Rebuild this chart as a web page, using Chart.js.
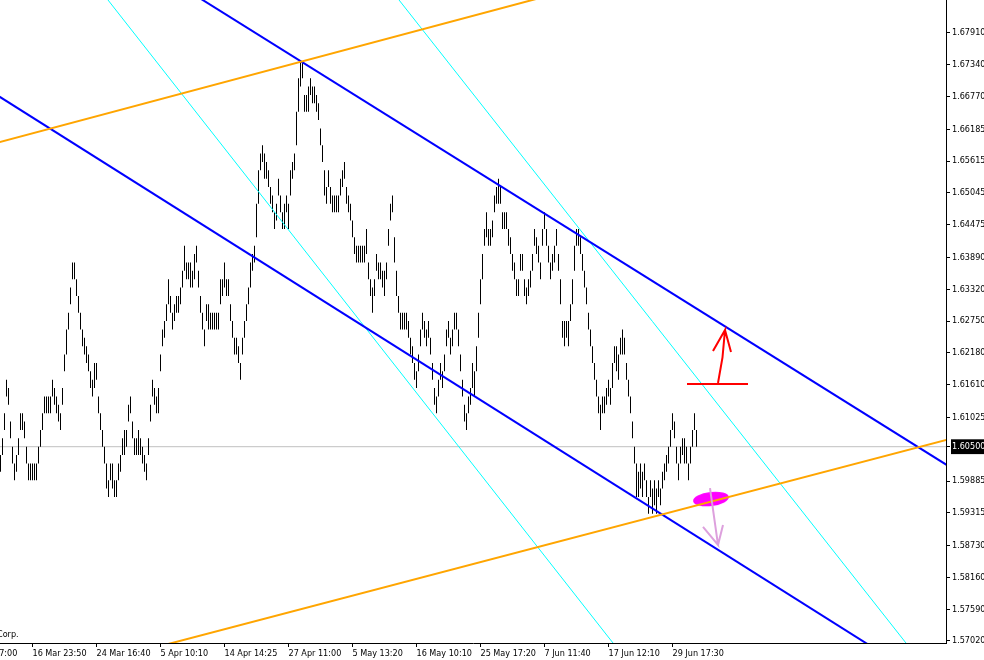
<!DOCTYPE html>
<html>
<head>
<meta charset="utf-8">
<title>Price chart</title>
<script src="https://cdn.jsdelivr.net/npm/chart.js@4.4.1/dist/chart.umd.min.js"></script>
<style>
  html, body { margin: 0; padding: 0; background: #fff; }
  canvas { display: block; }
</style>
</head>
<body>
<canvas id="priceChart" width="984" height="660"></canvas>
<script>
// one vertical bar per index: high / low
const barHigh = [
  1.6035,1.6065,1.6110,1.6170,1.6155,1.6095,1.6050,1.6020,1.6035,1.6065,
  1.6110,1.6110,1.6095,1.6050,1.6020,1.6020,1.6020,1.6020,1.6020,1.6050,
  1.6080,1.6110,1.6140,1.6140,1.6140,1.6140,1.6170,1.6155,1.6140,1.6125,
  1.6110,1.6155,1.6215,1.6260,1.6290,1.6335,1.6380,1.6380,1.6350,1.6320,
  1.6290,1.6260,1.6245,1.6230,1.6215,1.6185,1.6170,1.6200,1.6200,1.6140,
  1.6110,1.6080,1.6050,1.6020,1.5990,1.6020,1.6020,1.5990,1.5990,1.6020,
  1.6035,1.6065,1.6080,1.6080,1.6125,1.6140,1.6095,1.6065,1.6065,1.6080,
  1.6065,1.6050,1.6035,1.6020,1.6065,1.6125,1.6170,1.6155,1.6140,1.6155,
  1.6215,1.6260,1.6275,1.6305,1.6350,1.6320,1.6290,1.6305,1.6320,1.6320,
  1.6335,1.6365,1.6410,1.6380,1.6380,1.6380,1.6365,1.6395,1.6410,1.6365,
  1.6320,1.6290,1.6260,1.6305,1.6305,1.6290,1.6290,1.6290,1.6290,1.6290,
  1.6350,1.6350,1.6380,1.6350,1.6350,1.6305,1.6275,1.6245,1.6245,1.6230,
  1.6200,1.6245,1.6275,1.6305,1.6335,1.6380,1.6395,1.6410,1.6485,1.6545,
  1.6575,1.6590,1.6575,1.6560,1.6545,1.6515,1.6500,1.6470,1.6485,1.6530,
  1.6500,1.6470,1.6485,1.6500,1.6485,1.6545,1.6560,1.6575,1.6650,1.6710,
  1.6740,1.6740,1.6680,1.6680,1.6695,1.6710,1.6695,1.6695,1.6680,1.6665,
  1.6620,1.6590,1.6545,1.6515,1.6545,1.6515,1.6500,1.6500,1.6500,1.6500,
  1.6530,1.6545,1.6560,1.6515,1.6500,1.6485,1.6455,1.6425,1.6410,1.6410,
  1.6410,1.6410,1.6410,1.6440,1.6380,1.6350,1.6335,1.6350,1.6395,1.6380,
  1.6380,1.6365,1.6365,1.6380,1.6440,1.6485,1.6500,1.6425,1.6365,1.6320,
  1.6290,1.6290,1.6290,1.6290,1.6275,1.6245,1.6230,1.6200,1.6185,1.6215,
  1.6260,1.6290,1.6275,1.6260,1.6275,1.6245,1.6200,1.6155,1.6140,1.6170,
  1.6200,1.6185,1.6215,1.6260,1.6275,1.6245,1.6260,1.6290,1.6290,1.6260,
  1.6215,1.6170,1.6125,1.6110,1.6140,1.6155,1.6200,1.6185,1.6230,1.6290,
  1.6350,1.6395,1.6440,1.6470,1.6440,1.6440,1.6455,1.6500,1.6515,1.6530,
  1.6515,1.6470,1.6470,1.6470,1.6440,1.6425,1.6395,1.6380,1.6350,1.6350,
  1.6395,1.6395,1.6350,1.6335,1.6350,1.6365,1.6395,1.6440,1.6425,1.6410,
  1.6380,1.6440,1.6470,1.6440,1.6410,1.6380,1.6395,1.6410,1.6440,1.6395,
  1.6350,1.6275,1.6275,1.6275,1.6275,1.6305,1.6350,1.6410,1.6440,1.6440,
  1.6425,1.6395,1.6365,1.6335,1.6290,1.6260,1.6230,1.6200,1.6170,1.6140,
  1.6125,1.6140,1.6140,1.6155,1.6170,1.6155,1.6200,1.6230,1.6230,1.6215,
  1.6245,1.6260,1.6245,1.6200,1.6170,1.6140,1.6095,1.6050,1.6020,1.6005,
  1.6020,1.6005,1.6020,1.5990,1.5960,1.5990,1.5975,1.5990,1.5975,1.5990,
  1.5975,1.6005,1.6020,1.6035,1.6050,1.6080,1.6110,1.6095,1.6050,1.6020,
  1.6050,1.6065,1.6065,1.6050,1.6020,1.6050,1.6080,1.6110,1.6080
];
const barLow = [
  1.6005,1.6035,1.6080,1.6140,1.6125,1.6065,1.6020,1.5990,1.6005,1.6035,
  1.6080,1.6080,1.6065,1.6020,1.5990,1.5990,1.5990,1.5990,1.5990,1.6020,
  1.6050,1.6080,1.6110,1.6110,1.6110,1.6110,1.6140,1.6125,1.6110,1.6095,
  1.6080,1.6125,1.6185,1.6215,1.6260,1.6305,1.6350,1.6350,1.6320,1.6290,
  1.6260,1.6230,1.6215,1.6200,1.6185,1.6155,1.6140,1.6155,1.6170,1.6110,
  1.6080,1.6050,1.6020,1.5975,1.5960,1.5990,1.5975,1.5960,1.5960,1.5990,
  1.6005,1.6035,1.6035,1.6050,1.6095,1.6110,1.6065,1.6035,1.6035,1.6035,
  1.6035,1.6020,1.6005,1.5990,1.6035,1.6095,1.6140,1.6125,1.6110,1.6110,
  1.6185,1.6230,1.6245,1.6275,1.6305,1.6290,1.6260,1.6275,1.6290,1.6290,
  1.6305,1.6335,1.6365,1.6350,1.6350,1.6335,1.6335,1.6350,1.6380,1.6335,
  1.6290,1.6260,1.6230,1.6275,1.6260,1.6260,1.6260,1.6260,1.6260,1.6260,
  1.6305,1.6320,1.6335,1.6320,1.6320,1.6275,1.6245,1.6215,1.6215,1.6200,
  1.6170,1.6215,1.6245,1.6275,1.6305,1.6335,1.6365,1.6380,1.6425,1.6485,
  1.6545,1.6560,1.6530,1.6530,1.6515,1.6485,1.6470,1.6440,1.6455,1.6500,
  1.6470,1.6440,1.6440,1.6470,1.6440,1.6500,1.6530,1.6545,1.6590,1.6650,
  1.6695,1.6710,1.6650,1.6650,1.6650,1.6680,1.6665,1.6665,1.6650,1.6635,
  1.6590,1.6560,1.6500,1.6485,1.6515,1.6485,1.6470,1.6470,1.6470,1.6470,
  1.6500,1.6515,1.6530,1.6485,1.6470,1.6455,1.6425,1.6395,1.6380,1.6380,
  1.6380,1.6380,1.6380,1.6395,1.6350,1.6320,1.6290,1.6320,1.6365,1.6350,
  1.6350,1.6335,1.6320,1.6350,1.6410,1.6455,1.6470,1.6380,1.6320,1.6290,
  1.6260,1.6260,1.6260,1.6260,1.6245,1.6215,1.6200,1.6170,1.6155,1.6185,
  1.6230,1.6260,1.6245,1.6230,1.6245,1.6215,1.6170,1.6125,1.6110,1.6140,
  1.6170,1.6155,1.6185,1.6230,1.6245,1.6215,1.6230,1.6260,1.6260,1.6230,
  1.6185,1.6140,1.6095,1.6080,1.6110,1.6125,1.6155,1.6140,1.6185,1.6245,
  1.6305,1.6350,1.6410,1.6425,1.6410,1.6410,1.6425,1.6470,1.6485,1.6485,
  1.6485,1.6440,1.6440,1.6440,1.6410,1.6395,1.6365,1.6350,1.6320,1.6320,
  1.6365,1.6365,1.6320,1.6305,1.6320,1.6335,1.6365,1.6410,1.6395,1.6380,
  1.6350,1.6410,1.6440,1.6410,1.6380,1.6350,1.6365,1.6380,1.6410,1.6365,
  1.6305,1.6245,1.6230,1.6245,1.6230,1.6275,1.6305,1.6365,1.6410,1.6410,
  1.6395,1.6365,1.6335,1.6305,1.6260,1.6230,1.6200,1.6170,1.6140,1.6110,
  1.6080,1.6110,1.6110,1.6125,1.6140,1.6125,1.6155,1.6200,1.6185,1.6170,
  1.6215,1.6215,1.6215,1.6170,1.6140,1.6110,1.6065,1.6020,1.5960,1.5960,
  1.5975,1.5960,1.5990,1.5960,1.5930,1.5960,1.5930,1.5945,1.5930,1.5960,
  1.5945,1.5975,1.5990,1.6005,1.6020,1.6050,1.6080,1.6065,1.6020,1.5990,
  1.6020,1.6035,1.6020,1.6020,1.5990,1.6020,1.6050,1.6080,1.6050
];

// time axis: bar index of each label and its text
const timeTickIdx = [-16, 16, 48, 80, 112, 144, 176, 208, 240, 272, 304, 336];
const timeLabels = ["8 Mar 17:00", "16 Mar 23:50", "24 Mar 16:40", "5 Apr 10:10", "14 Apr 14:25",
  "27 Apr 11:00", "5 May 13:20", "16 May 10:10", "25 May 17:20", "7 Jun 11:40", "17 Jun 12:10", "29 Jun 17:30"];

// price axis labels
const priceTicks = [1.67910, 1.67340, 1.66770, 1.66185, 1.65615, 1.65045, 1.64475, 1.63890, 1.63320, 1.62750,
  1.62180, 1.61610, 1.61025, 1.60500, 1.59885, 1.59315, 1.58730, 1.58160, 1.57590, 1.57020];
const bidPrice = 1.60500;

// drawn objects, as [bar index, price]
const bidLine = [[-5, 1.6050], [480, 1.6050]];
const orangeUpper = [[-10, 1.65864], [300, 1.68827]];
const orangeLower = [[70, 1.56836], [490, 1.60783]];
const blueUpper = [[90, 1.68750], [490, 1.59795]];
const blueLower = [[-10, 1.66984], [440, 1.56818]];
const cyanLeft = [[45, 1.68900], [315, 1.56585]];
const cyanRight = [[190, 1.68922], [465, 1.56427]];
const redLevel = [[343.25, 1.61623], [373.75, 1.61623]];
const redArrow = [[358.75, 1.61641], [361, 1.62100], [362.25, 1.62590], [356.25, 1.62214], [362.25, null], [362.25, 1.62590], [365.25, 1.62196]];
const plumArrow = [[354.75, 1.59760], [358.75, 1.58740], [351.25, 1.59062], [358.75, null], [358.75, 1.58740], [361.25, 1.59098]];
const blobCenter = [[355.25, 1.59563]];

const FONT = { family: "'DejaVu Sans Condensed', 'DejaVu Sans', sans-serif", size: 9 };

function pts(arr) {
  return arr.map(p => ({ x: p[0], y: p[1] }));
}

function lineSet(data, color, width, order) {
  return {
    type: "line",
    data: pts(data),
    borderColor: color,
    borderWidth: width,
    pointRadius: 0,
    pointHoverRadius: 0,
    tension: 0,
    spanGaps: false,
    fill: false,
    order: order
  };
}

// magenta blob drawn as a point image
const blob = document.createElement("canvas");
blob.width = 40;
blob.height = 20;
const bctx = blob.getContext("2d");
bctx.fillStyle = "#FF00FF";
bctx.beginPath();
bctx.ellipse(20, 10, 18, 7, -0.12, 0, Math.PI * 2);
bctx.fill();

const corpText = {
  id: "corpText",
  afterDraw(chart) {
    const c = chart.ctx;
    c.save();
    c.font = "9px " + FONT.family;
    c.fillStyle = "#000";
    c.textBaseline = "middle";
    c.fillText("Corp.", -3, 635);
    c.restore();
  }
};

const bars = barHigh.map((h, i) => ({ x: i, y: [barLow[i], h] }));

const ctx = document.getElementById("priceChart").getContext("2d");
new Chart(ctx, {
  type: "bar",
  data: {
    datasets: [
      lineSet(redLevel, "#FF0000", 2, 1),
      lineSet(redArrow, "#FF0000", 2, 1),
      lineSet(plumArrow, "#DDA0DD", 2, 2),
      lineSet(orangeUpper, "#FFA500", 2, 3),
      lineSet(orangeLower, "#FFA500", 2, 3),
      lineSet(blueUpper, "#0000FF", 2, 4),
      lineSet(blueLower, "#0000FF", 2, 4),
      lineSet(cyanLeft, "#00FFFF", 1, 5),
      lineSet(cyanRight, "#00FFFF", 1, 5),
      {
        type: "line",
        data: pts(blobCenter),
        showLine: false,
        pointStyle: blob,
        pointRadius: 10,
        order: 6
      },
      {
        type: "bar",
        data: bars,
        backgroundColor: "#000",
        borderWidth: 0,
        barThickness: 1,
        inflateAmount: 0,
        grouped: false,
        order: 7
      },
      lineSet(bidLine, "#C0C0C0", 1, 8)
    ]
  },
  options: {
    responsive: false,
    animation: false,
    devicePixelRatio: 1,
    events: [],
    layout: { padding: 0, autoPadding: false },
    plugins: {
      legend: { display: false },
      tooltip: { enabled: false }
    },
    scales: {
      x: {
        type: "linear",
        min: -0.25,
        max: 472.75,
        offset: false,
        grid: { display: true, drawOnChartArea: false, drawTicks: true, tickLength: 4, color: "#000", offset: false },
        border: { display: true, color: "#000", width: 1 },
        ticks: {
          autoSkip: false,
          maxRotation: 0,
          minRotation: 0,
          align: "start",
          padding: 1,
          color: "#000",
          font: FONT,
          callback: (v, i) => timeLabels[i]
        },
        afterBuildTicks: s => { s.ticks = timeTickIdx.map(v => ({ value: v })); },
        afterFit: s => { s.height = 17; s.paddingLeft = 0; s.paddingRight = 0; }
      },
      y: {
        type: "linear",
        position: "right",
        min: 1.56984,
        max: 1.68501,
        grid: { display: true, drawOnChartArea: false, drawTicks: true, tickLength: 4, color: "#000" },
        border: { display: true, color: "#000", width: 1 },
        ticks: {
          padding: 2,
          font: FONT,
          color: c => (c.tick && c.tick.value === bidPrice) ? "#fff" : "#000",
          showLabelBackdrop: c => !!(c.tick && c.tick.value === bidPrice),
          backdropColor: "#000",
          backdropPadding: { top: 2, bottom: 2, left: 1, right: 4 },
          callback: v => v.toFixed(5)
        },
        afterBuildTicks: s => { s.ticks = priceTicks.map(v => ({ value: v })); },
        afterFit: s => { s.width = 38; s.paddingTop = 0; s.paddingBottom = 0; }
      }
    }
  },
  plugins: [corpText]
});
</script>
</body>
</html>
